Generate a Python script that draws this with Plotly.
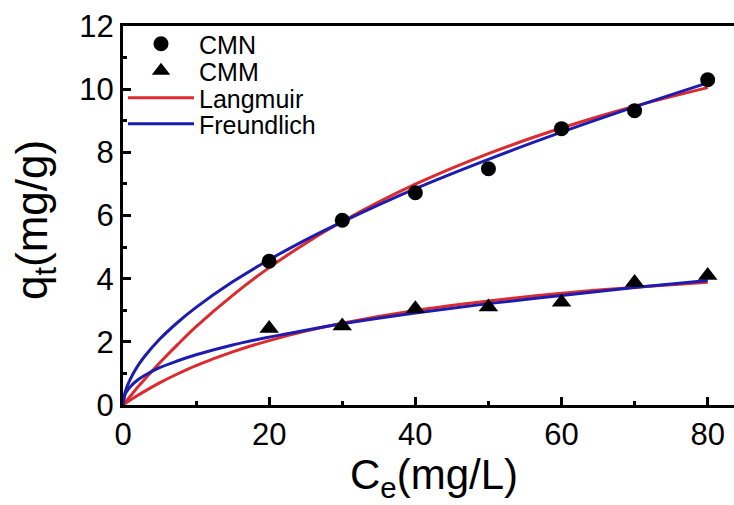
import plotly.graph_objects as go

# Experimental data
ce_points = [20, 30, 40, 50, 60, 70, 80]
cmn_q = [4.55, 5.85, 6.72, 7.48, 8.75, 9.32, 10.30]
cmm_q = [2.42, 2.50, 3.05, 3.10, 3.25, 3.88, 4.10]

# Fitted curves
ce_fit = [0, 0.25, 0.5, 1, 2, 3, 5, 7.5, 10, 15, 20, 25, 30, 40, 50, 60, 70, 80]
cmn_langmuir = [0, 0.07, 0.14, 0.28, 0.56, 0.82, 1.33, 1.92, 2.48, 3.47, 4.35, 5.12, 5.81, 6.99, 7.96, 8.77, 9.46, 10.05]
cmn_freundlich = [0, 0.37, 0.55, 0.82, 1.23, 1.55, 2.08, 2.62, 3.09, 3.90, 4.60, 5.23, 5.80, 6.85, 7.78, 8.64, 9.44, 10.20]
cmm_langmuir = [0, 0.04, 0.08, 0.16, 0.30, 0.44, 0.70, 0.99, 1.25, 1.68, 2.04, 2.34, 2.59, 2.99, 3.29, 3.54, 3.73, 3.89]
cmm_freundlich = [0, 0.32, 0.43, 0.58, 0.79, 0.94, 1.18, 1.40, 1.59, 1.90, 2.15, 2.37, 2.57, 2.91, 3.21, 3.47, 3.72, 3.94]

RED = "#DC2A2E"
BLUE = "#1C1CB0"
FONT = "Liberation Sans, Arial, sans-serif"

fig = go.Figure()
fig.add_trace(go.Scatter(x=ce_fit, y=cmn_langmuir, mode="lines", name="Langmuir",
                         line=dict(color=RED, width=3, shape="spline"),
                         legendgroup="L", legend="legend3"))
fig.add_trace(go.Scatter(x=ce_fit, y=cmm_langmuir, mode="lines", name="Langmuir",
                         line=dict(color=RED, width=3, shape="spline"),
                         legendgroup="L", showlegend=False, legend="legend3"))
fig.add_trace(go.Scatter(x=ce_fit, y=cmn_freundlich, mode="lines", name="Freundlich",
                         line=dict(color=BLUE, width=3, shape="spline"),
                         legendgroup="F", legend="legend4"))
fig.add_trace(go.Scatter(x=ce_fit, y=cmm_freundlich, mode="lines", name="Freundlich",
                         line=dict(color=BLUE, width=3, shape="spline"),
                         legendgroup="F", showlegend=False, legend="legend4"))
fig.add_trace(go.Scatter(x=ce_points, y=cmn_q, mode="markers", name="CMN",
                         marker=dict(symbol="circle", size=15, color="black"),
                         legend="legend"))
fig.add_trace(go.Scatter(x=ce_points, y=cmm_q, mode="markers", name="CMM",
                         marker=dict(symbol="triangle-up", size=17, color="black"),
                         legend="legend2"))

axis_common = dict(
    showline=True, linecolor="black", linewidth=3,
    ticks="inside", ticklen=8, tickwidth=3, tickcolor="black",
    showgrid=False, zeroline=False,
    tickfont=dict(family=FONT, size=31, color="black"),
)

fig.update_xaxes(range=[0, 83.6], tickvals=[0, 20, 40, 60, 80], mirror=True,
                 minor=dict(ticks="inside", ticklen=4, tickwidth=3, tickcolor="black", dtick=10, tick0=0, showgrid=False),
                 **axis_common)
fig.update_yaxes(range=[0, 12], tickvals=[0, 2, 4, 6, 8, 10, 12], mirror=False,
                 minor=dict(ticks="inside", ticklen=4, tickwidth=3, tickcolor="black", dtick=1, tick0=0, showgrid=False),
                 **axis_common)

fig.add_annotation(text="C<sub>e</sub>(mg/L)", xref="paper", yref="paper",
                   x=(434 - 123) / 611, y=-(477 - 405) / 379, showarrow=False,
                   font=dict(family=FONT, size=42, color="black"),
                   xanchor="center", yanchor="middle")
fig.add_annotation(text="q<sub>t</sub>(mg/g)", xref="paper", yref="paper",
                   x=-(123 - 35) / 611, y=(405 - 220) / 379, showarrow=False, textangle=-90,
                   font=dict(family=FONT, size=44, color="black"),
                   xanchor="center", yanchor="middle")

def leg(row_px):
    return dict(x=0.0, y=(405 - row_px) / 379, xanchor="left", yanchor="middle",
                bgcolor="rgba(0,0,0,0)", itemwidth=66, borderwidth=0,
                font=dict(family=FONT, size=25, color="black"))

fig.update_layout(
    width=734, height=505,
    margin=dict(l=123, r=0, t=26, b=100, autoexpand=False),
    plot_bgcolor="white", paper_bgcolor="white",
    legend=leg(44), legend2=leg(71), legend3=leg(98), legend4=leg(124),
    showlegend=True,
)

fig.write_html("out.html")
